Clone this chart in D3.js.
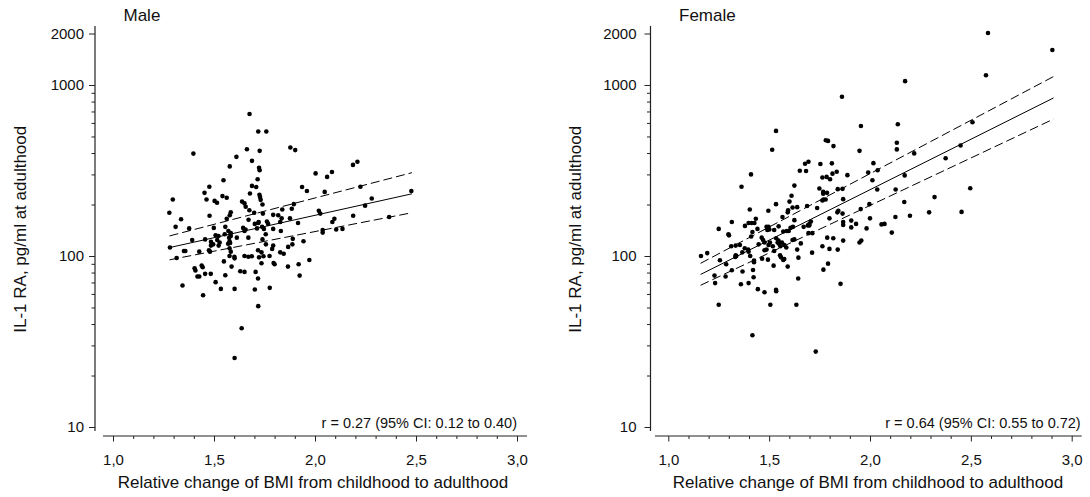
<!DOCTYPE html>
<html><head><meta charset="utf-8">
<script src="https://cdn.jsdelivr.net/npm/d3@7"></script>
<style>
html,body{margin:0;padding:0;background:#fff;}
svg{display:block;}
text{font-family:"Liberation Sans", Arial, sans-serif; fill:#111;}
</style></head><body>
<svg id="chart" width="1090" height="497"></svg>
<script>
// ---------- data (BMI change ratio, IL-1 RA pg/ml) ----------
const malePoints = [[1.676,676],[1.719,534],[1.759,534],[1.398,397],[1.663,421],[1.726,412],[1.878,431],[1.902,416],[1.611,380],[1.688,360],[1.578,334],[1.723,328],[1.726,317],[2.188,341],[2.210,356],[2.003,304],[2.084,310],[2.060,290],[1.547,277],[1.716,281],[1.688,257],[1.709,253],[1.477,254],[1.936,253],[1.960,240],[2.225,254],[2.477,240],[2.048,237],[1.453,234],[1.678,232],[1.725,228],[1.728,221],[1.731,213],[1.542,224],[1.563,219],[1.463,214],[1.503,210],[1.515,205],[1.639,208],[1.651,203],[1.296,214],[1.740,200],[2.281,217],[1.895,201],[1.885,189],[2.248,197],[1.657,194],[1.583,180],[1.578,173],[1.793,174],[1.818,173],[1.838,187],[2.019,184],[2.026,177],[1.675,185],[1.699,179],[1.835,166],[1.828,158],[1.876,166],[1.478,172],[1.279,179],[1.337,164],[1.742,177],[2.189,172],[2.367,169],[1.671,163],[1.721,158],[1.719,156],[1.563,165],[1.762,159],[1.702,154],[1.738,148],[1.768,154],[2.096,165],[2.086,158],[1.916,156],[1.310,148],[1.377,145],[1.499,146],[1.644,146],[1.656,143],[1.651,140],[1.713,145],[1.747,144],[1.756,134],[1.793,144],[1.831,140],[2.038,142],[2.038,137],[2.105,143],[2.136,144],[1.556,148],[1.571,140],[1.583,136],[1.583,131],[1.508,132],[1.522,131],[1.553,134],[1.575,128],[1.613,128],[1.392,124],[1.456,125],[1.516,124],[1.740,125],[1.757,117],[1.670,128],[1.890,126],[1.943,122],[1.528,120],[1.523,115],[1.577,122],[1.485,121],[1.496,117],[1.485,115],[1.570,118],[1.580,119],[1.577,111],[1.282,112],[1.793,115],[1.788,110],[1.888,117],[1.867,113],[1.358,107],[1.351,107],[1.427,106],[1.475,108],[1.480,106],[1.583,106],[1.718,108],[1.735,105],[1.828,105],[1.845,103],[1.577,100],[1.601,99],[1.602,96.9],[1.651,100],[1.670,99],[1.687,99.6],[1.723,98.2],[1.745,99.6],[1.775,100],[1.315,97.4],[1.549,93],[1.972,94.8],[1.735,90.6],[1.795,91],[1.800,89.4],[1.919,89.4],[1.587,86.7],[1.439,87.9],[1.444,85.9],[1.866,86.7],[1.404,84.8],[1.408,82.2],[1.456,78.6],[1.484,78.6],[1.630,81.4],[1.651,80.7],[1.706,80.7],[1.556,77.2],[1.924,76.8],[1.418,75.8],[1.427,75.8],[1.718,73.8],[1.508,70.3],[1.344,67.2],[1.534,64.2],[1.602,64.2],[1.702,63.7],[1.776,65.1],[1.446,59.0],[1.719,50.9],[1.637,37.8],[1.602,25.3]];

const femalePoints = [[2.585,2012],[2.904,1602],[2.575,1141],[2.174,1053],[1.861,853],[2.508,605],[2.138,589],[1.955,576],[1.534,539],[1.781,475],[1.792,471],[1.819,439],[2.449,443],[2.133,459],[2.133,420],[1.515,418],[1.948,412],[2.219,398],[2.375,373],[1.695,356],[1.678,346],[1.683,314],[1.754,345],[1.811,348],[2.017,349],[2.038,317],[1.991,308],[1.652,315],[1.410,300],[1.888,297],[1.835,311],[1.814,303],[1.764,288],[1.785,290],[1.802,281],[2.012,277],[2.172,296],[1.625,258],[1.363,254],[1.749,248],[2.127,245],[2.036,245],[1.840,246],[1.864,247],[2.497,249],[1.768,237],[1.768,231],[1.787,234],[1.764,211],[1.769,214],[1.780,214],[1.611,225],[2.320,221],[1.867,215],[1.601,208],[2.170,207],[1.534,201],[1.997,201],[1.688,196],[1.616,192],[1.639,193],[1.496,184],[1.404,187],[1.594,185],[1.592,180],[1.738,191],[1.843,184],[1.838,180],[2.454,181],[2.293,180],[1.954,188],[1.864,177],[2.198,172],[1.566,169],[1.799,166],[2.000,166],[2.126,169],[1.625,162],[1.434,165],[1.427,156],[1.413,156],[1.398,156],[1.315,158],[1.867,158],[1.867,152],[1.907,161],[1.707,159],[1.700,154],[1.699,151],[1.931,154],[1.380,150],[1.442,144],[1.250,144],[1.487,148],[1.491,142],[1.618,148],[1.606,146],[1.597,140],[1.587,140],[1.570,139],[1.692,151],[1.671,148],[1.907,147],[1.983,145],[1.298,134],[1.301,132],[1.417,138],[1.411,130],[1.497,148],[1.525,142],[1.547,149],[1.501,143],[2.057,153],[2.072,154],[2.108,137],[1.695,136],[1.714,136],[1.463,128],[1.470,124],[1.504,120],[1.497,116],[1.616,124],[1.625,125],[1.657,118.5],[1.535,127],[1.546,123],[1.542,120],[1.549,118],[1.556,114],[1.563,120],[1.575,116],[1.585,112],[1.518,114],[1.525,107],[1.448,117],[1.477,120],[1.788,128],[1.818,127],[1.867,123],[1.948,120],[1.957,123],[1.334,115],[1.312,114],[1.379,111],[1.355,116],[1.396,109],[1.367,105],[1.337,100],[1.398,106],[1.477,108],[1.487,109],[1.639,109],[1.764,114],[1.799,110],[1.840,109],[1.162,100],[1.193,104],[1.256,94.4],[1.334,101],[1.332,98.7],[1.406,100],[1.425,94],[1.425,91.9],[1.465,96.5],[1.494,95.2],[1.554,100.9],[1.559,98.2],[1.570,94.8],[1.575,96],[1.645,97.8],[1.713,104.6],[1.287,89.4],[1.522,87.8],[1.592,86.7],[1.792,90.2],[1.229,76.8],[1.284,75.8],[1.315,82.5],[1.368,81.1],[1.420,82.8],[1.423,75.1],[1.769,83.2],[1.232,69.4],[1.360,68.4],[1.398,69.4],[1.644,73.8],[1.854,68.7],[1.444,64],[1.477,61.4],[1.534,63.4],[1.535,62.3],[1.250,51.9],[1.506,51.9],[1.635,51.9],[1.417,34.4],[1.731,27.6]];

// regression line and confidence lines (endpoints, in data units)
const maleFitX = [1.28, 2.48];
const maleFitMid = [112, 231];
const maleFitUpper = [131, 307];
const maleFitLower = [95, 179];
const femaleFitX = [1.16, 2.91];
const femaleFitMid = [78, 840];
const femaleFitUpper = [90.6, 1120];
const femaleFitLower = [67.4, 632];

const panelTitles = ["Male", "Female"];
const rLabels = ["r = 0.27 (95% CI: 0.12 to 0.40)", "r = 0.64 (95% CI: 0.55 to 0.72)"];
const yMajorTicks = [10, 100, 1000, 2000];
const yMinorTicks = [20, 30, 40, 50, 60, 70, 80, 90, 200, 300, 400, 500, 600, 700, 800, 900];
const xMajorTicks = [1.0, 1.5, 2.0, 2.5, 3.0];
const xMinorTicks = [1.1, 1.2, 1.3, 1.4, 1.6, 1.7, 1.8, 1.9, 2.1, 2.2, 2.3, 2.4, 2.6, 2.7, 2.8, 2.9];
const xTitle = "Relative change of BMI from childhood to adulthood";
const yTitle = "IL-1 RA, pg/ml at adulthood";

// ---------- drawing ----------
const svg = d3.select("#chart");
const AXIS_COLOR = "#222";
const FONT = '"Liberation Sans", Arial, sans-serif';

const panels = [
  {title: panelTitles[0], r: rLabels[0], points: malePoints,
   fitX: maleFitX, mid: maleFitMid, up: maleFitUpper, lo: maleFitLower,
   axisX: 95, x0: 113, x1: 517, yPad: 5, xLineStart: 103, rShift: 0},
  {title: panelTitles[1], r: rLabels[1], points: femalePoints,
   fitX: femaleFitX, mid: femaleFitMid, up: femaleFitUpper, lo: femaleFitLower,
   axisX: 650.5, x0: 668.3, x1: 1071.7, yPad: 8, xLineStart: 655, rShift: 9}
];

const y = d3.scaleLog().domain([10, 2000]).range([427, 33.5]);
const xAxisY = 436;

function styleTexts(sel, size) {
  sel.selectAll("text").style("font-size", size + "px").style("font-family", FONT).attr("fill", "#111");
}

panels.forEach(p => {
  const g = svg.append("g");
  const x = d3.scaleLinear().domain([1, 3]).range([p.x0, p.x1]);

  // y axis
  const ya = g.append("g").attr("transform", `translate(${p.axisX},0)`).style("color", AXIS_COLOR);
  ya.call(d3.axisLeft(y).tickValues(yMajorTicks).tickFormat(d3.format("d")).tickSize(6).tickPadding(p.yPad));
  ya.select(".domain").remove();
  styleTexts(ya, 15);
  const yam = ya.append("g");
  yam.call(d3.axisLeft(y).tickValues(yMinorTicks).tickFormat("").tickSize(3.5));
  yam.select(".domain").remove();
  ya.append("line").attr("x1", 0).attr("x2", 0)
    .attr("y1", y(2000) - 7.5).attr("y2", y(10) + 4)
    .attr("stroke", AXIS_COLOR).attr("stroke-width", 1.2);

  // x axis
  const xa = g.append("g").attr("transform", `translate(0,${xAxisY})`).style("color", AXIS_COLOR);
  xa.call(d3.axisBottom(x).tickValues(xMajorTicks).tickFormat(d => d.toFixed(1).replace(".", ",")).tickSize(5.5).tickPadding(13));
  xa.select(".domain").remove();
  styleTexts(xa, 15);
  const xam = xa.append("g");
  xam.call(d3.axisBottom(x).tickValues(xMinorTicks).tickFormat("").tickSize(3));
  xam.select(".domain").remove();
  xa.append("line").attr("x1", p.xLineStart).attr("x2", x(3) + 10)
    .attr("y1", 0).attr("y2", 0).attr("stroke", AXIS_COLOR).attr("stroke-width", 1.2);

  // axis titles
  g.append("text").attr("x", x(2) - 2).attr("y", 488).attr("text-anchor", "middle")
    .style("font-size", "17px").text(xTitle);
  g.append("text").attr("transform", `translate(${p.axisX - 75},${(y(2000) + y(10)) / 2 - 1}) rotate(-90)`)
    .attr("dy", "0.35em").attr("text-anchor", "middle").style("font-size", "17px").text(yTitle);

  // panel title
  g.append("text").attr("x", p.axisX + 28.5).attr("y", 21).style("font-size", "17px").text(p.title);

  // r label
  g.append("text").attr("x", x(3) + p.rShift).attr("y", 428).attr("text-anchor", "end")
    .style("font-size", "14.5px").text(p.r);

  // fit lines
  const line = d3.line().x(d => x(d[0])).y(d => y(d[1]));
  const seg = arr => p.fitX.map((v, i) => [v, arr[i]]);
  g.append("path").attr("d", line(seg(p.mid))).attr("fill", "none").attr("stroke", "#000").attr("stroke-width", 1);
  [p.up, p.lo].forEach(arr => {
    g.append("path").attr("d", line(seg(arr))).attr("fill", "none").attr("stroke", "#000")
      .attr("stroke-width", 1).attr("stroke-dasharray", "9,4");
  });

  // points
  g.append("g").selectAll("circle").data(p.points).join("circle")
    .attr("cx", d => x(d[0])).attr("cy", d => y(d[1])).attr("r", 2.3).attr("fill", "#000");
});
</script>
</body></html>
